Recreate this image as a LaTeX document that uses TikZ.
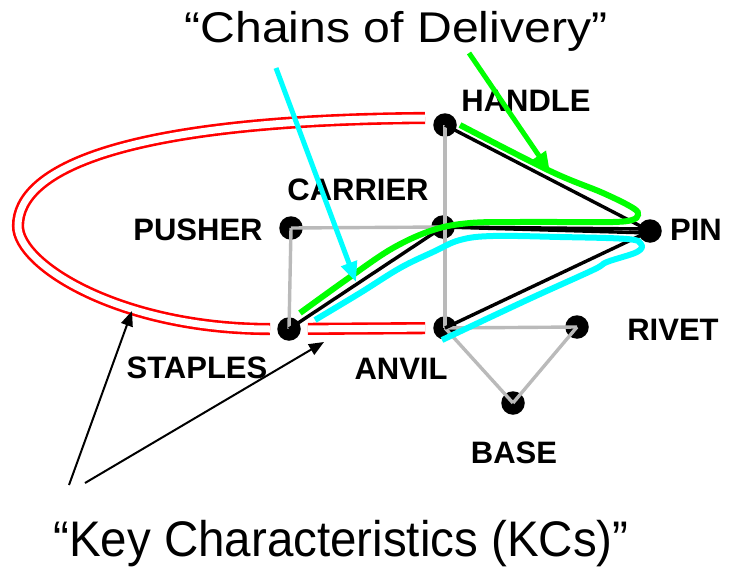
\documentclass[tikz,border=0pt]{standalone}
\usepackage{fontspec}
\setmainfont{Liberation Sans}
\usetikzlibrary{arrows.meta}
\definecolor{aqua}{RGB}{0,255,255}
\definecolor{lime}{RGB}{0,255,0}
\definecolor{kcred}{RGB}{255,0,0}

\begin{document}
\begin{tikzpicture}[
    x = 1pt, y = -1pt,
    part/.style = {circle, fill = black, inner sep = 0pt, minimum size = 23.5pt},
    tag/.style = {inner sep = 0pt, font = \bfseries\fontsize{31}{31}\selectfont},
    wire/.style = {line width = 3.4pt, draw = black!27},
    link/.style = {line width = 3.4pt, draw = black},
    kc/.style = {draw = kcred, line width = 2.6pt, double = white, double distance = 7pt},
    chain/.style = {line width = 6pt, smooth, tension = 0.6},
    pointer/.style = {line width = 5pt, -{Triangle[length = 20pt, width = 16pt]}},
    callout/.style = {line width = 2pt, -{Triangle[length = 15pt, width = 12pt]}}
]
\useasboundingbox (0,0) rectangle (735,567);

\node[part] (handle) at (445,125) {};
\node[part] (carrier) at (443,227) {};
\node[part] (pusher) at (291,228) {};
\node[part] (pin) at (650,231) {};
\node[part] (staples) at (289,329) {};
\node[part] (anvil) at (445,328) {};
\node[part] (rivet) at (577,327) {};
\node[part] (base) at (513,403) {};

\node[tag] (handlelbl) at ([shift = {(81,-24)}]handle) {HANDLE};
\node[tag] (carrierlbl) at ([shift = {(-85,-37)}]carrier) {CARRIER};
\node[tag] (pusherlbl) at ([shift = {(-93,2)}]pusher) {PUSHER};
\node[tag] (pinlbl) at ([shift = {(46,-1)}]pin) {PIN};
\node[tag] (rivetlbl) at ([shift = {(96,3)}]rivet) {RIVET};
\node[tag] (stapleslbl) at ([shift = {(-92,39)}]staples) {STAPLES};
\node[tag] (anvillbl) at ([shift = {(-44,41)}]anvil) {ANVIL};
\node[tag] (baselbl) at ([shift = {(1,50)}]base) {BASE};

% assembly graph
\path[wire]
(handle.center) edge (anvil.center)
(pusher.center) edge (carrier.center)
(pusher.center) edge (staples.center)
(anvil.center) edge (rivet.center)
(anvil.center) edge (base.center)
(base.center) edge (rivet.center);
\path[link]
(handle.center) edge (pin.center)
(staples.center) edge (carrier.center)
(carrier.center) edge ([yshift = 2pt]pin.center)
(carrier.center) edge ([yshift = -2pt]pin.center)
(anvil.center) edge (pin.center);

% key characteristics
\draw[kc, shorten < = 7pt, shorten > = 8pt] (staples) -- (anvil);
\draw[kc] ([shift = {(-20,-7)}]handle.center) .. controls (120,120) and (18,170) .. (18,226)
    .. controls (18,265) and (120,329) .. ([shift = {(-19,0)}]staples.center);

% chains of delivery
\draw[chain, lime] plot coordinates {(460,125) (550,171) (603,193) (633,208) (638,215)
    (632,220) (613,222) (560,222) (520,222) (470,223) (433,230) (393,248) (350,277) (300,313)};
\draw[chain, aqua] plot coordinates {(315,320) (360,293) (400,268) (433,252) (460,240)
    (493,236) (560,237) (627,239) (641,244) (637,252) (607,262) (593,270) (527,300) (442,340)};

% labels
\node (chains) [anchor = base, font = \fontsize{43}{43}\selectfont] at (396,43)
    {\scalebox{1.12}[1]{“Chains of Delivery”}};
\node (kcs) [anchor = base, font = \fontsize{50}{50}\selectfont] at (341,556)
    {\scalebox{0.95}[1]{“Key Characteristics (KCs)”}};

\coordinate (cyanfrom) at (276,68);
\coordinate (cyanto) at (356,282);
\coordinate (greenfrom) at (469,53);
\coordinate (greento) at (550,172);
\coordinate (kcfroma) at (69,485);
\coordinate (kctoa) at (132,311);
\coordinate (kcfromb) at (85,483);
\coordinate (kctob) at (324,342);
% arrows
\draw[pointer, aqua] (cyanfrom) -- (cyanto);
\draw[pointer, lime] (greenfrom) -- (greento);
\draw[callout] (kcfroma) -- (kctoa);
\draw[callout] (kcfromb) -- (kctob);

\end{tikzpicture}
\end{document}
